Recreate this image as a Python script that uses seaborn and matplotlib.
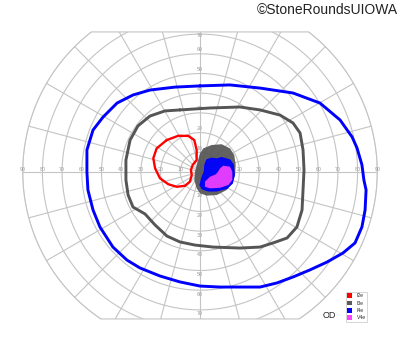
import numpy as np
import matplotlib
matplotlib.use("Agg")
import matplotlib.pyplot as plt
import seaborn as sns
from matplotlib.patches import Polygon, Patch

# ---- data: isopters in degrees of visual field (x: temporal/nasal, y: superior/inferior)
i4e_x = [0, 15.2, 30.5, 47.2, 60.9, 71.1, 77.2, 79.7, 82.2, 83.2, 84.3, 83.8, 82.2, 78.7,
         72.6, 64.5, 55.8, 47.2, 39.1, 30.5, 20.3, 10.2, 0, -10.2, -20.3, -30.5, -37.1,
         -44.2, -50.8, -54.3, -56.9, -57.4, -57.4, -54.3, -49.2, -42.1, -34.0, -25.4, -12.7]
i4e_y = [43.7, 44.2, 42.6, 40.1, 35.0, 26.4, 17.8, 12.2, 3.6, -4.1, -9.1, -19.3, -27.9, -36.0,
         -41.1, -45.7, -49.7, -53.3, -56.3, -58.4, -58.4, -58.4, -57.9, -55.8, -52.8, -48.7, -44.7,
         -38.1, -27.9, -19.3, -9.1, 0, 11.2, 21.3, 27.9, 35.0, 39.1, 41.6, 43.1]

i3e_x = [-10.2, 5.1, 20.3, 30.5, 40.6, 47.2, 50.8, 52.3, 52.8, 52.3, 51.8, 49.2, 44.2, 37.1,
         30.5, 20.3, 6.6, -2.5, -10.2, -16.8, -22.8, -27.9, -34.0, -36.5, -37.6, -37.6, -35.5,
         -31.5, -25.4, -17.8]
i3e_y = [31.5, 32.5, 33.0, 31.5, 28.9, 24.9, 19.8, 11.2, 1.0, -9.1, -19.3, -27.9, -33.5, -36.0,
         -38.1, -38.6, -38.1, -37.1, -35.5, -32.5, -26.9, -21.3, -17.8, -11.7, -4.1, 6.1, 16.2,
         23.4, 28.4, 31.0]

i2e_x = [-16.9, -11.0, -5.9, -2.9, -1.7, -1.7, -3.7, -4.6, -4.2, -5.1, -7.6, -11.8, -16.1,
         -20.3, -22.8, -23.7, -22.0]
i2e_y = [16.2, 18.4, 18.3, 16.2, 11.2, 6.1, 3.6, 1.0, -1.5, -4.9, -7.0, -7.5, -6.2,
         -3.2, 1.9, 7.0, 12.0]

i3e_area_x = [1.7, 5.9, 11.0, 15.2, 17.4, 18.1, 17.8, 16.4, 13.6, 8.5, 3.4, 0, -1.7, -2.9, -2.5, -1.2, 0]
i3e_area_y = [12.0, 13.7, 14.1, 12.0, 8.6, 3.6, -1.5, -5.7, -9.1, -11.7, -12.0, -10.8, -8.3, -4.1, 0.2, 5.2, 9.5]

i4e_area_x = [3.4, 5.9, 8.5, 11.0, 15.2, 16.9, 17.4, 16.4, 13.6, 8.5, 4.2, 1.2, 0, 0.9, 2.2, 2.5]
i4e_area_y = [6.1, 7.0, 6.6, 7.3, 6.1, 3.6, -1.5, -5.7, -8.3, -9.6, -9.6, -8.6, -6.6, -3.2, 0.2, 3.6]

v4e_area_x = [10.2, 11.8, 15.2, 16.4, 16.4, 14.4, 10.2, 5.1, 2.5, 2.5, 5.1, 8.0, 9.2]
v4e_area_y = [1.9, 3.2, 2.7, 0.2, -4.1, -6.6, -8.0, -8.3, -7.5, -4.9, -2.4, -1.2, 0.2]

ring_values = [10, 20, 30, 40, 50, 60, 70, 80, 90]
vert_ring_values = [10, 20, 30, 40, 50, 60, 70]
meridian_step = 15
legend_labels = ["I2e", "I3e", "I4e", "V4e"]
legend_colors = ["#ff0000", "#5a5a5a", "#0000ff", "#ff44ff"]

# ---- figure
sns.set_style("white")
plt.rcParams['font.family'] = ['Liberation Sans', 'DejaVu Sans']

fig = plt.figure(figsize=(4.0, 3.52), dpi=100)
ax = fig.add_axes([0, 0, 1, 1])
scale = 1.97  # px per degree

top_lim, bot_lim, rmax = 71.1, -74.6, 90
th_top = np.arcsin(top_lim / rmax)
th_bot = np.arcsin(bot_lim / rmax)
t1 = np.linspace(th_bot, th_top, 100)
t2 = np.linspace(np.pi - th_top, np.pi - th_bot, 100)
bx = np.concatenate([rmax * np.cos(t1), rmax * np.cos(t2)])
by = np.concatenate([rmax * np.sin(t1), rmax * np.sin(t2)])
boundary = Polygon(np.column_stack([bx, by]), closed=True, facecolor="none",
                   edgecolor="#c4c4c4", lw=0.8, zorder=0.5)
ax.add_patch(boundary)

grid_kw = dict(color="#c4c4c4", lw=0.8, zorder=0.5)
tt = np.linspace(0, 2 * np.pi, 400)
for r in ring_values:
    ln, = ax.plot(r * np.cos(tt), r * np.sin(tt), **grid_kw)
    ln.set_clip_path(boundary)
for a in np.arange(0, 360, meridian_step):
    rad = np.deg2rad(a)
    ln, = ax.plot([0, 110 * np.cos(rad)], [0, 110 * np.sin(rad)], **grid_kw)
    ln.set_clip_path(boundary)

lab_kw = dict(fontsize=3.8, color="#999999", ha="center", va="center", zorder=0.6)
for r in ring_values:
    ax.text(r, 1.4, str(r), **lab_kw)
    ax.text(-r, 1.4, str(r), **lab_kw)
for r in vert_ring_values:
    ax.text(0, min(r + 2, 69.5), str(r), **lab_kw)
    ax.text(0, -r - 2, str(r), **lab_kw)

# central filled areas (slightly translucent so the grid shows through)
ax.fill(i3e_area_x, i3e_area_y, color="#555555", alpha=0.92, lw=0, zorder=1)
ax.fill(i4e_area_x, i4e_area_y, facecolor="#0000ff", edgecolor="#0000ff", lw=0.9,
        alpha=0.95, zorder=1.1)
ax.fill(v4e_area_x, v4e_area_y, color="#ff44ff", alpha=0.88, lw=0, zorder=1.2)

def closed(xs, ys):
    return np.append(xs, xs[0]), np.append(ys, ys[0])

for xs, ys, col, lw in [(i4e_x, i4e_y, "#0000ff", 2.1),
                        (i3e_x, i3e_y, "#555555", 2.1),
                        (i2e_x, i2e_y, "#ff0000", 1.7)]:
    cx, cy = closed(xs, ys)
    sns.lineplot(x=cx, y=cy, sort=False, estimator=None, color=col, lw=lw, ax=ax,
                 zorder=3)
for l in ax.lines[-3:]:
    l.set_solid_joinstyle("round")

ax.set_xlim(-200 / scale, 200 / scale)
ax.set_ylim(-180 / scale, 172 / scale)
ax.axis("off")

fig.text(0.995, 1 - 10 / 352, "©StoneRoundsUIOWA", ha="right", va="center",
         fontsize=10, color="#222222")
fig.text(329 / 400, 1 - 316 / 352, "OD", ha="center", va="center", fontsize=6.5,
         color="#222222")

handles = [Patch(facecolor=c, edgecolor="none") for c in legend_colors]
leg = fig.legend(handles, legend_labels, loc="upper left",
                 bbox_to_anchor=(345.5 / 400, 1 - 292 / 352),
                 fontsize=3.6, handlelength=1.1, handleheight=1.1, handletextpad=0.9,
                 labelspacing=0.45, borderpad=0.25, borderaxespad=0,
                 frameon=True, fancybox=False, edgecolor="#c4c4c4")
leg.get_frame().set_linewidth(0.6)

fig.savefig("out.png", dpi=100)
